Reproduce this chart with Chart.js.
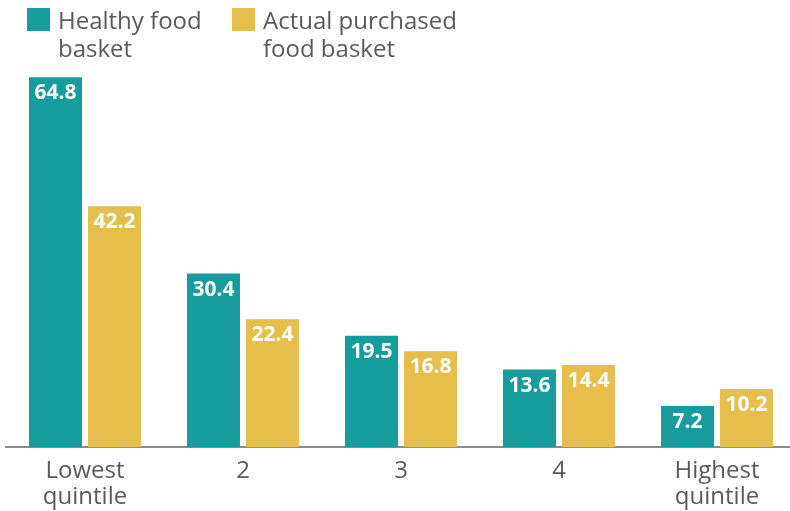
<!DOCTYPE html>
<html>
<head>
<meta charset="utf-8">
<script src="https://cdn.jsdelivr.net/npm/chart.js@4"></script>
<style>
  html, body { margin: 0; padding: 0; background: #fff; overflow: hidden; }
  #wrap { position: relative; width: 790px; height: 511px; overflow: hidden; }
  #box { position: absolute; left: 0; top: 0; width: 796px; height: 511px; }
  .legend { position: absolute; top: 6px; font-family: "Open Sans", sans-serif; font-size: 24px; line-height: 28px; color: #5a5a5a; }
  .legend .sw { position: absolute; top: 2px; width: 23px; height: 23px; }
  .legend .tx { position: absolute; top: 0; white-space: nowrap; }
</style>
</head>
<body>
<div id="wrap">
  <div id="box"><canvas id="chart"></canvas></div>
  <div class="legend" style="left:27px">
    <div class="sw" style="left:0;background:#179c9e"></div>
    <div class="tx" style="left:31px">Healthy food<br>basket</div>
  </div>
  <div class="legend" style="left:232px">
    <div class="sw" style="left:0;background:#e5be4c"></div>
    <div class="tx" style="left:31px">Actual purchased<br>food basket</div>
  </div>
</div>
<script>
const categories = [["Lowest", "quintile"], "2", "3", "4", ["Highest", "quintile"]];
const healthyBasket = [64.8, 30.4, 19.5, 13.6, 7.2];
const actualBasket = [42.2, 22.4, 16.8, 14.4, 10.2];

const TEAL = '#179c9e';
const GOLD = '#e5be4c';

// write the value inside the top of every bar
const barLabels = {
  id: 'barLabels',
  afterDatasetsDraw(chart) {
    const ctx = chart.ctx;
    ctx.save();
    ctx.font = 'bold 21px "Open Sans", sans-serif';
    ctx.fillStyle = '#ffffff';
    ctx.textAlign = 'center';
    ctx.textBaseline = 'middle';
    chart.data.datasets.forEach((ds, i) => {
      chart.getDatasetMeta(i).data.forEach((bar, j) => {
        ctx.fillText(ds.data[j].toFixed(1), bar.x, bar.y + 16);
      });
    });
    ctx.restore();
  }
};

new Chart(document.getElementById('chart'), {
  type: 'bar',
  data: {
    labels: categories,
    datasets: [
      { label: 'Healthy food basket', data: healthyBasket, backgroundColor: TEAL },
      { label: 'Actual purchased food basket', data: actualBasket, backgroundColor: GOLD }
    ]
  },
  options: {
    responsive: true,
    maintainAspectRatio: false,
    animation: false,
    categoryPercentage: 0.747,
    barPercentage: 0.898,
    layout: { padding: { top: 76, left: 6, right: 0, bottom: -10 } },
    plugins: { legend: { display: false }, tooltip: { enabled: false } },
    scales: {
      x: {
        grid: { display: false, drawTicks: false },
        border: { display: true, color: '#8a8a8a', width: 2 },
        ticks: {
          color: '#5a5a5a',
          padding: 10,
          font: { family: '"Open Sans", sans-serif', size: 24, lineHeight: 1.12 },
          maxRotation: 0,
          autoSkip: false
        }
      },
      y: {
        display: false,
        min: 0,
        max: 65
      }
    }
  },
  plugins: [barLabels]
});
</script>
</body>
</html>
